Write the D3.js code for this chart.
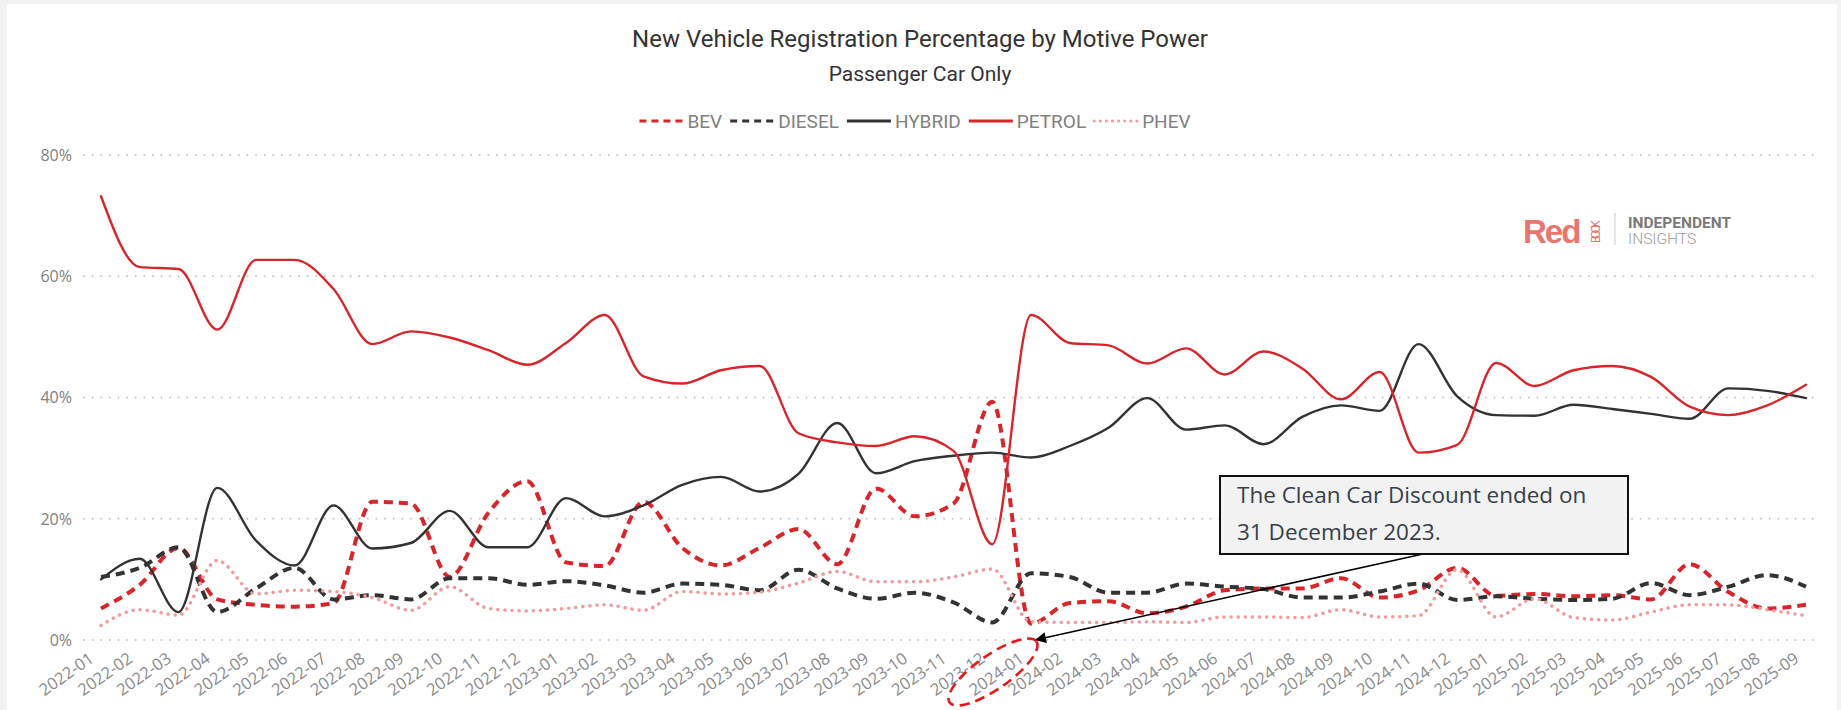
<!DOCTYPE html>
<html>
<head>
<meta charset="utf-8">
<script src="https://cdn.jsdelivr.net/npm/d3@7"></script>
<style>
  body { margin: 0; background: #f2f2f2; }
  svg { display: block; }
</style>
</head>
<body>
<svg id="chart" width="1841" height="710"></svg>
<script>
var months = ["2022-01","2022-02","2022-03","2022-04","2022-05","2022-06","2022-07","2022-08","2022-09","2022-10","2022-11","2022-12",
  "2023-01","2023-02","2023-03","2023-04","2023-05","2023-06","2023-07","2023-08","2023-09","2023-10","2023-11","2023-12",
  "2024-01","2024-02","2024-03","2024-04","2024-05","2024-06","2024-07","2024-08","2024-09","2024-10","2024-11","2024-12",
  "2025-01","2025-02","2025-03","2025-04","2025-05","2025-06","2025-07","2025-08","2025-09"];

var bev = [5.2, 9.1, 15.2, 6.7, 5.8, 5.5, 6.1, 22.8, 22.5, 10.4, 21.0, 26.2, 12.8, 12.2, 22.8, 15.2, 12.3, 15.2, 18.3, 12.5,
  25.0, 20.4, 22.5, 39.3, 2.7, 6.1, 6.4, 4.4, 5.5, 8.2, 8.5, 8.5, 10.2, 7.0, 8.2, 11.9, 7.3, 7.6, 7.2, 7.4, 6.7, 12.5, 7.9, 5.2, 5.8];
var diesel = [10.4, 11.9, 15.3, 4.6, 8.5, 11.9, 6.7, 7.4, 6.7, 10.2, 10.2, 9.1, 9.7, 9.0, 7.8, 9.3, 9.1, 8.2, 11.6, 8.5,
  6.8, 7.8, 6.2, 2.9, 11.0, 10.4, 7.8, 7.8, 9.3, 8.8, 8.4, 7.0, 7.0, 8.0, 9.3, 6.6, 7.2, 6.8, 6.6, 6.8, 9.4, 7.4, 8.8, 10.7, 8.8];
var hybrid = [10.0, 13.4, 4.6, 25.1, 16.4, 12.3, 22.2, 15.1, 16.0, 21.3, 15.3, 15.3, 23.4, 20.4, 22.2, 25.6, 26.9, 24.5, 27.4, 35.8,
  27.5, 29.5, 30.4, 30.9, 30.1, 32.0, 35.0, 39.9, 34.7, 35.4, 32.3, 36.8, 38.7, 37.8, 48.8, 40.2, 37.1, 37.0, 38.8, 38.1, 37.3, 36.5, 41.5, 41.1, 39.9];
var petrol = [73.2, 61.5, 61.2, 51.2, 62.7, 62.7, 57.9, 48.8, 50.9, 49.9, 47.8, 45.4, 49.0, 53.6, 43.5, 42.3, 44.5, 45.2, 34.1, 32.6,
  32.0, 33.6, 31.2, 15.8, 53.6, 49.0, 48.6, 45.6, 48.1, 43.8, 47.6, 44.8, 39.7, 44.2, 30.9, 32.2, 45.7, 41.9, 44.5, 45.2, 43.4, 38.5, 37.1, 38.7, 42.1];
var phev = [2.4, 5.0, 4.1, 13.1, 7.6, 8.2, 8.0, 7.0, 4.9, 8.8, 5.2, 4.8, 5.2, 5.8, 4.9, 8.0, 7.6, 7.9, 9.4, 11.3,
  9.6, 9.6, 10.4, 11.7, 3.0, 2.9, 2.9, 3.0, 2.9, 3.8, 3.8, 3.7, 5.0, 3.8, 4.0, 11.6, 3.8, 6.8, 3.7, 3.3, 4.6, 5.8, 5.8, 5.0, 4.0];

var yTicks = [0, 20, 40, 60, 80];
var note = ["The Clean Car Discount ended on", "31 December 2023."];
var noteMonth = "2024-01";

var series = [
  {name: "BEV",    values: bev,    color: "#d7262b", width: 4,   dash: "9,6",   cap: "butt"},
  {name: "DIESEL", values: diesel, color: "#333333", width: 4,   dash: "9,6",   cap: "butt"},
  {name: "HYBRID", values: hybrid, color: "#333333", width: 2.4, dash: null,    cap: "round"},
  {name: "PETROL", values: petrol, color: "#d7262b", width: 2.4, dash: null,    cap: "round"},
  {name: "PHEV",   values: phev,   color: "#ef9c9c", width: 3.5, dash: "0.1,7", cap: "round"}
];

var svg = d3.select("#chart");
svg.append("rect").attr("x", 7).attr("y", 4).attr("width", 1830).attr("height", 720).attr("fill", "#fff");

var x = d3.scalePoint().domain(months).range([101, 1806]);
var y = d3.scaleLinear().domain([0, 80]).range([640, 155]);

// title
svg.append("text").attr("x", 920).attr("y", 47).attr("text-anchor", "middle")
  .style("font", "24px Roboto").attr("fill", "#333").text("New Vehicle Registration Percentage by Motive Power");
svg.append("text").attr("x", 920).attr("y", 81).attr("text-anchor", "middle")
  .style("font", "21px Roboto").attr("fill", "#333").text("Passenger Car Only");

// legend
var leg = svg.append("g");
var lx = 0;
series.forEach(function(s) {
  var g = leg.append("g").attr("transform", "translate(" + lx + ",0)");
  g.append("line").attr("x1", 2).attr("x2", 46).attr("y1", 0).attr("y2", 0)
    .attr("stroke", s.color).attr("stroke-width", 3)
    .attr("stroke-dasharray", s.name === "PHEV" ? "0.1,6" : (s.dash ? "7,5" : null))
    .attr("stroke-linecap", s.name === "PHEV" ? "round" : "butt");
  var t = g.append("text").attr("x", 50).attr("y", 7).style("font", "19px Roboto")
    .attr("fill", "#808080").text(s.name);
  lx += 50 + t.node().getComputedTextLength() + 6;
});
leg.attr("transform", "translate(" + (917 - lx / 2) + ",121)");

// grid + y labels
svg.append("g").selectAll("line").data(yTicks).join("line")
  .attr("x1", 84).attr("x2", 1818).attr("y1", d => y(d)).attr("y2", d => y(d))
  .attr("stroke", "#c4c4c4").attr("stroke-width", 1.8).attr("stroke-dasharray", "0.1,8.5").attr("stroke-linecap", "round");
svg.append("g").selectAll("text").data(yTicks).join("text")
  .attr("x", 72).attr("y", d => y(d)).attr("dy", "0.36em").attr("text-anchor", "end")
  .style("font", "16px 'Open Sans'").attr("fill", "#808080").text(d => d + "%");

// x labels
svg.append("g").selectAll("text").data(months).join("text")
  .attr("transform", d => "translate(" + (x(d) - 6) + ",661) rotate(-35)")
  .attr("text-anchor", "end").style("font", "16.5px 'Open Sans'").attr("fill", "#8a8a8a").text(d => d);

// lines
var line = d3.line().x((d, i) => x(months[i])).y(d => y(d)).curve(d3.curveMonotoneX);
svg.append("g").selectAll("path").data(series).join("path")
  .attr("d", s => line(s.values)).attr("fill", "none")
  .attr("stroke", s => s.color).attr("stroke-width", s => s.width)
  .attr("stroke-dasharray", s => s.dash).attr("stroke-linecap", s => s.cap).attr("stroke-linejoin", "round");

// logo
var logo = svg.append("g").attr("transform", "translate(1523,243)");
logo.append("text").attr("x", 0).attr("y", 0).style("font", "bold 33px 'Liberation Sans'")
  .attr("letter-spacing", -2).attr("fill", "#e8756f").text("Red");
logo.append("text").attr("transform", "translate(77,0) rotate(-90)").style("font", "12px 'Liberation Sans'")
  .attr("textLength", 23).attr("fill", "#e8756f").text("BOOK");
logo.append("line").attr("x1", 92).attr("x2", 92).attr("y1", -30).attr("y2", 2).attr("stroke", "#ddd").attr("stroke-width", 1.5);
logo.append("text").attr("x", 105).attr("y", -15).style("font", "bold 15.5px Roboto").attr("fill", "#7a7a7a").text("INDEPENDENT");
logo.append("text").attr("x", 105).attr("y", 1).style("font", "300 15.5px Roboto").attr("fill", "#9a9a9a").text("INSIGHTS");

// annotation
svg.append("defs").append("marker").attr("id", "arr").attr("markerUnits", "userSpaceOnUse")
  .attr("viewBox", "0 0 10 10").attr("refX", 10).attr("refY", 5).attr("markerWidth", 16).attr("markerHeight", 11)
  .attr("orient", "auto").append("path").attr("d", "M0,0L10,5L0,10Z").attr("fill", "#000");
svg.append("line").attr("x1", 1423).attr("y1", 554).attr("x2", x(noteMonth) + 4).attr("y2", y(0))
  .attr("stroke", "#000").attr("stroke-width", 1.6).attr("marker-end", "url(#arr)");
svg.append("rect").attr("x", 1220).attr("y", 476).attr("width", 408).attr("height", 78)
  .attr("fill", "#f2f2f2").attr("stroke", "#111").attr("stroke-width", 2);
svg.append("g").selectAll("text").data(note).join("text")
  .attr("x", 1237).attr("y", (d, i) => 503 + i * 37).style("font", "22.5px 'Open Sans'").attr("fill", "#36404a").text(d => d);
svg.append("ellipse").attr("transform", "translate(" + (x(noteMonth) - 38) + ",672) rotate(-35)")
  .attr("rx", 53).attr("ry", 17).attr("fill", "none").attr("stroke", "#e3191c").attr("stroke-width", 2.6)
  .attr("stroke-dasharray", "10,6");
</script>
</body>
</html>
